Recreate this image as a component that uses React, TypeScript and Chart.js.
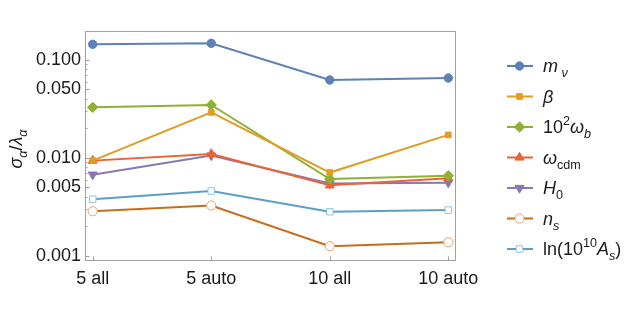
import React, { useEffect, useRef } from "react";
import { Chart, registerables } from "chart.js";
import { drawPoint } from "chart.js/helpers";

Chart.register(...registerables);

// ---- data ----
const categories = ["5 all", "5 auto", "10 all", "10 auto"];
const mNu = [0.1445, 0.148, 0.0625, 0.0655];
const beta = [0.0094, 0.0292, 0.0071, 0.0172];
const omegaB = [0.0329, 0.0348, 0.0061, 0.0066];
const omegaCdm = [0.0094, 0.011, 0.00526, 0.0062];
const h0 = [0.00676, 0.0106, 0.0055, 0.0056];
const nS = [0.00286, 0.00327, 0.00126, 0.00138];
const lnAs = [0.0038, 0.0046, 0.00283, 0.00294];
const yTickValues = [0.001, 0.005, 0.01, 0.05, 0.1];
const yTickLabels = ["0.001", "0.005", "0.010", "0.050", "0.100"];

type Part = { t: string; i?: boolean; k?: "sub" | "sup" };
const legendLabels: Part[][] = [
  [{ t: "m", i: true }, { t: " ν", i: true, k: "sub" }],
  [{ t: "β", i: true }],
  [{ t: "10" }, { t: "2", k: "sup" }, { t: "ω", i: true }, { t: "b", i: true, k: "sub" }],
  [{ t: "ω", i: true }, { t: "cdm", k: "sub" }],
  [{ t: "H", i: true }, { t: "0", k: "sub" }],
  [{ t: "n", i: true }, { t: "s", i: true, k: "sub" }],
  [{ t: "ln(10" }, { t: "10", k: "sup" }, { t: "A", i: true }, { t: "s", i: true, k: "sub" }, { t: ")" }],
];
const yTitle: Part[] = [
  { t: "σ", i: true },
  { t: "α", i: true, k: "sub" },
  { t: "/" },
  { t: "λ", i: true },
  { t: "α", i: true, k: "sub" },
];

// ---- styles ----
const seriesValues = [mNu, beta, omegaB, omegaCdm, h0, nS, lnAs];
const colors = ["#5E81B5", "#E19C24", "#8FB032", "#EB6235", "#8778B3", "#C56E1A", "#5D9EC7"];
const markerStyles = [
  { style: "circle", r: 4.2, fill: "#5E81B5", edge: "#5E81B5", rot: 0 },
  { style: "rect", r: 4.0, fill: "#E19C24", edge: "#E19C24", rot: 0 },
  { style: "rectRot", r: 5.2, fill: "#8FB032", edge: "#8FB032", rot: 0 },
  { style: "triangle", r: 5.2, fill: "#EB6235", edge: "#EB6235", rot: 0 },
  { style: "triangle", r: 5.2, fill: "#8778B3", edge: "#8778B3", rot: 180 },
  { style: "circle", r: 4.6, fill: "#FFFFFF", edge: "#E3A06A", rot: 0 },
  { style: "rect", r: 4.6, fill: "#FFFFFF", edge: "#93C3E3", rot: 0 },
];

const FONT = '"Liberation Sans", Arial, Helvetica, sans-serif';
const FRAME = { left: 85, right: 456, top: 31, bottom: 261 };

function drawRich(ctx: CanvasRenderingContext2D, parts: Part[], x: number, y: number, size: number, measureOnly = false) {
  let cx = x;
  for (const p of parts) {
    const small = p.k === "sub" || p.k === "sup";
    const fs = small ? size * 0.7 : size;
    ctx.font = `${p.i ? "italic " : ""}${fs}px ${FONT}`;
    const dy = p.k === "sub" ? size * 0.28 : p.k === "sup" ? -size * 0.42 : 0;
    if (!measureOnly) ctx.fillText(p.t, cx, y + dy);
    cx += ctx.measureText(p.t).width;
  }
  return cx - x;
}

const decorPlugin = {
  id: "decor",
  beforeDatasetsDraw(chart: any) {
    const ctx: CanvasRenderingContext2D = chart.ctx;
    const { left, right, top, bottom } = chart.chartArea;
    const ys = chart.scales.y;
    const xs = chart.scales.x;
    ctx.save();
    ctx.strokeStyle = "#A0A0A0";
    ctx.lineWidth = 1;
    ctx.strokeRect(Math.round(left) + 0.5, Math.round(top) + 0.5, Math.round(right - left) - 1, Math.round(bottom - top) - 1);
    ctx.beginPath();
    for (let d = -4; d <= 0; d++) {
      for (let m = 1; m <= 9; m++) {
        const v = m * Math.pow(10, d);
        if (v < ys.min || v > ys.max) continue;
        const py = Math.round(ys.getPixelForValue(v)) + 0.5;
        const len = m === 1 || m === 5 ? 4.5 : 2.5;
        ctx.moveTo(Math.round(left), py);
        ctx.lineTo(Math.round(left) + len, py);
      }
    }
    categories.forEach((_, i) => {
      const px = Math.round(xs.getPixelForValue(i)) + 0.5;
      ctx.moveTo(px, Math.round(bottom));
      ctx.lineTo(px, Math.round(bottom) - 4.5);
    });
    ctx.stroke();
    ctx.restore();
  },
  afterDraw(chart: any) {
    const ctx: CanvasRenderingContext2D = chart.ctx;
    ctx.save();
    ctx.fillStyle = "#1a1a1a";
    ctx.textBaseline = "alphabetic";
    ctx.textAlign = "left";
    // legend
    legendLabels.forEach((parts, i) => {
      const cy = 66 + i * 30.5;
      ctx.strokeStyle = colors[i];
      ctx.lineWidth = 2;
      ctx.beginPath();
      ctx.moveTo(507, cy);
      ctx.lineTo(533, cy);
      ctx.stroke();
      const ms = markerStyles[i];
      ctx.fillStyle = ms.fill;
      ctx.strokeStyle = ms.edge;
      ctx.lineWidth = 1;
      drawPoint(ctx, { pointStyle: ms.style, radius: ms.r, rotation: ms.rot, borderWidth: 1 } as any, 519.5, cy);
      ctx.fillStyle = "#1a1a1a";
      drawRich(ctx, parts, 543, cy + 6, 18);
    });
    // y title
    const w = drawRich(ctx, yTitle, 0, 0, 18, true);
    ctx.translate(22, 149);
    ctx.rotate(-Math.PI / 2);
    drawRich(ctx, yTitle, -w / 2, 0, 18);
    ctx.restore();
  },
};

export default function App() {
  const ref = useRef<HTMLCanvasElement | null>(null);
  useEffect(() => {
    if (!ref.current) return;
    const datasets = seriesValues.map((vals, i) => ({
      label: "s" + i,
      data: vals.map((v, j) => ({ x: j, y: v })),
      borderColor: colors[i],
      borderWidth: 2,
      pointStyle: markerStyles[i].style as any,
      pointRadius: markerStyles[i].r,
      pointHoverRadius: markerStyles[i].r,
      pointBackgroundColor: markerStyles[i].fill,
      pointBorderColor: markerStyles[i].edge,
      pointBorderWidth: 1,
      pointRotation: markerStyles[i].rot,
      tension: 0,
      fill: false,
    }));
    const chart = new Chart(ref.current, {
      type: "line",
      data: { datasets },
      options: {
        animation: false,
        responsive: false,
        devicePixelRatio: 1,
        layout: { padding: { left: 0, top: FRAME.top, right: 632 - FRAME.right, bottom: 0 } },
        plugins: { legend: { display: false }, title: { display: false }, tooltip: { enabled: false } },
        scales: {
          x: {
            type: "linear",
            min: -0.065,
            max: 3.065,
            grid: { display: false, drawTicks: false },
            border: { display: false },
            afterBuildTicks: (scale: any) => {
              scale.ticks = categories.map((_, i) => ({ value: i }));
            },
            afterFit: (scale: any) => {
              scale.height = 318 - FRAME.bottom;
            },
            ticks: {
              autoSkip: false,
              maxRotation: 0,
              padding: 7,
              color: "#1a1a1a",
              font: { family: FONT, size: 18 },
              callback: (_v: any, i: number) => categories[i],
            },
          },
          y: {
            type: "logarithmic",
            min: 0.000889,
            max: 0.1976,
            grid: { display: false, drawTicks: false },
            border: { display: false },
            afterBuildTicks: (scale: any) => {
              scale.ticks = yTickValues.map((v) => ({ value: v }));
            },
            afterFit: (scale: any) => {
              scale.width = FRAME.left;
            },
            ticks: {
              autoSkip: false,
              padding: 4,
              color: "#1a1a1a",
              font: { family: FONT, size: 18 },
              callback: (_v: any, i: number) => yTickLabels[i],
            },
          },
        },
      },
      plugins: [decorPlugin],
    });
    return () => chart.destroy();
  }, []);
  return (
    <div style={{ position: "fixed", left: 0, top: 0, width: 632, height: 318, background: "#fff" }}>
      <canvas ref={ref} width={632} height={318} style={{ display: "block" }} />
    </div>
  );
}
